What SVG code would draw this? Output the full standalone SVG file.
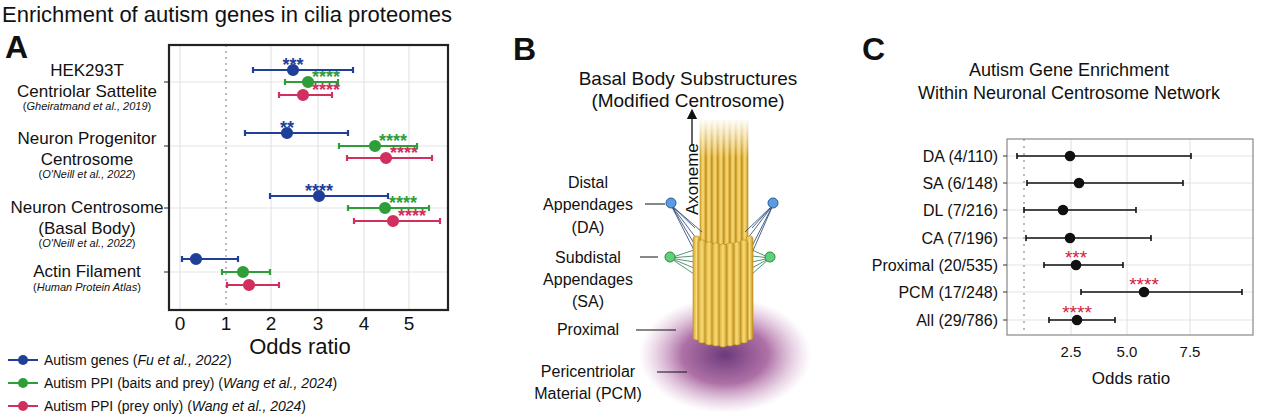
<svg xmlns="http://www.w3.org/2000/svg" width="1265" height="416" viewBox="0 0 1265 416">
<style>
text{font-family:"Liberation Sans",Arial,sans-serif;fill:#111}
.lab{font-size:17px;text-anchor:middle}
.cit{font-size:11px;text-anchor:middle}
.cl{font-size:16px;text-anchor:end}
.tk{font-size:16px;text-anchor:middle}
.grid{stroke:#e4e4e4;stroke-width:1.2}
.st{font-size:18px;text-anchor:middle;font-weight:bold}
.b{stroke:#1f3f98;fill:#1f3f98}.g{stroke:#2f9e3a;fill:#2f9e3a}.r{stroke:#d0305e;fill:#d0305e}
.eb{stroke-width:2.2}
.k{stroke:#111;stroke-width:1.6}
.rod{fill:url(#rodg);stroke:#b88a1c;stroke-width:0.6}
.bl{font-size:16px;text-anchor:middle}
</style>
<defs>
<radialGradient id="pcm" cx="50%" cy="50%" r="50%"><stop offset="0" stop-color="#6b3a7a"/><stop offset="0.5" stop-color="#9a4d90" stop-opacity="0.8"/><stop offset="1" stop-color="#c98fc0" stop-opacity="0"/></radialGradient>
<linearGradient id="rodg" x1="0" x2="1"><stop offset="0" stop-color="#d9a630"/><stop offset="0.5" stop-color="#f7dc7a"/><stop offset="1" stop-color="#c9941f"/></linearGradient>
<linearGradient id="fade" x1="0" y1="0" x2="0" y2="1"><stop offset="0" stop-color="#fff" stop-opacity="1"/><stop offset="1" stop-color="#fff" stop-opacity="0"/></linearGradient>
<marker id="ar" markerWidth="8" markerHeight="8" refX="4" refY="4" orient="auto"><path d="M0,0L8,4L0,8z" fill="#111"/></marker>
</defs>
<rect width="1265" height="416" fill="#fff"/>
<text x="2" y="22" style="font-size:22px">Enrichment of autism genes in cilia proteomes</text>
<text x="5" y="58" style="font-size:32px;font-weight:bold">A</text>
<text x="513" y="60" style="font-size:32px;font-weight:bold">B</text>
<text x="862" y="60" style="font-size:32px;font-weight:bold">C</text>

<g id="panelA">
<g class="grid">
<line x1="180" y1="45" x2="180" y2="310"/><line x1="271" y1="45" x2="271" y2="310"/><line x1="318" y1="45" x2="318" y2="310"/><line x1="364" y1="45" x2="364" y2="310"/><line x1="409" y1="45" x2="409" y2="310"/>
<line x1="169" y1="82" x2="448" y2="82"/><line x1="169" y1="146" x2="448" y2="146"/><line x1="169" y1="208" x2="448" y2="208"/><line x1="169" y1="272" x2="448" y2="272"/>
</g>
<line x1="226" y1="45" x2="226" y2="310" stroke="#bbb" stroke-width="2" stroke-dasharray="2,4"/>
<rect x="169" y="45" width="279" height="265" fill="none" stroke="#222" stroke-width="2.2"/>
<g stroke="#222"><line x1="164" y1="82" x2="169" y2="82"/><line x1="164" y1="146" x2="169" y2="146"/><line x1="164" y1="208" x2="169" y2="208"/><line x1="164" y1="272" x2="169" y2="272"/></g>
<text class="lab" x="87" y="76">HEK293T</text><text class="lab" x="87" y="97">Centriolar Sattelite</text><text class="cit" x="87" y="110">(<tspan font-style="italic">Gheiratmand et al., 2019</tspan>)</text>
<text class="lab" x="87" y="144">Neuron Progenitor</text><text class="lab" x="87" y="165">Centrosome</text><text class="cit" x="87" y="178">(<tspan font-style="italic">O'Neill et al., 2022</tspan>)</text>
<text class="lab" x="87" y="213">Neuron Centrosome</text><text class="lab" x="87" y="234">(Basal Body)</text><text class="cit" x="87" y="247">(<tspan font-style="italic">O'Neill et al., 2022</tspan>)</text>
<text class="lab" x="87" y="277">Actin Filament</text><text class="cit" x="87" y="291">(<tspan font-style="italic">Human Protein Atlas</tspan>)</text>
<text class="st" x="293" y="71" style="fill:#1f3f98">***</text>
<text class="st" x="326" y="83" style="fill:#2f9e3a">****</text>
<text class="st" x="326" y="96" style="fill:#d0305e">****</text>
<text class="st" x="287" y="134" style="fill:#1f3f98">**</text>
<text class="st" x="393" y="147" style="fill:#2f9e3a">****</text>
<text class="st" x="404" y="159" style="fill:#d0305e">****</text>
<text class="st" x="319" y="197" style="fill:#1f3f98">****</text>
<text class="st" x="403" y="209" style="fill:#2f9e3a">****</text>
<text class="st" x="412" y="222" style="fill:#d0305e">****</text>
<g class="eb">
<g class="b"><line x1="253" y1="70" x2="353" y2="70"/><circle cx="293" cy="70" r="5"/><line x1="253" y1="67" x2="253" y2="73"/><line x1="353" y1="67" x2="353" y2="73"/></g>
<g class="g"><line x1="285" y1="82" x2="338" y2="82"/><circle cx="308" cy="82" r="5"/><line x1="285" y1="79" x2="285" y2="85"/><line x1="338" y1="79" x2="338" y2="85"/></g>
<g class="r"><line x1="279" y1="95" x2="332" y2="95"/><circle cx="303" cy="95" r="5"/><line x1="279" y1="92" x2="279" y2="98"/><line x1="332" y1="92" x2="332" y2="98"/></g>
<g class="b"><line x1="245" y1="133" x2="348" y2="133"/><circle cx="287" cy="133" r="5"/><line x1="245" y1="130" x2="245" y2="136"/><line x1="348" y1="130" x2="348" y2="136"/></g>
<g class="g"><line x1="339" y1="146" x2="417" y2="146"/><circle cx="375" cy="146" r="5"/><line x1="339" y1="143" x2="339" y2="149"/><line x1="417" y1="143" x2="417" y2="149"/></g>
<g class="r"><line x1="347" y1="158" x2="432" y2="158"/><circle cx="386" cy="158" r="5"/><line x1="347" y1="155" x2="347" y2="161"/><line x1="432" y1="155" x2="432" y2="161"/></g>
<g class="b"><line x1="270" y1="196" x2="388" y2="196"/><circle cx="319" cy="196" r="5"/><line x1="270" y1="193" x2="270" y2="199"/><line x1="388" y1="193" x2="388" y2="199"/></g>
<g class="g"><line x1="348" y1="208" x2="429" y2="208"/><circle cx="385" cy="208" r="5"/><line x1="348" y1="205" x2="348" y2="211"/><line x1="429" y1="205" x2="429" y2="211"/></g>
<g class="r"><line x1="354" y1="221" x2="440" y2="221"/><circle cx="393" cy="221" r="5"/><line x1="354" y1="218" x2="354" y2="224"/><line x1="440" y1="218" x2="440" y2="224"/></g>
<g class="b"><line x1="182" y1="259" x2="238" y2="259"/><circle cx="196" cy="259" r="5"/><line x1="182" y1="256" x2="182" y2="262"/><line x1="238" y1="256" x2="238" y2="262"/></g>
<g class="g"><line x1="222" y1="272" x2="270" y2="272"/><circle cx="243" cy="272" r="5"/><line x1="222" y1="269" x2="222" y2="275"/><line x1="270" y1="269" x2="270" y2="275"/></g>
<g class="r"><line x1="227" y1="285" x2="279" y2="285"/><circle cx="249" cy="285" r="5"/><line x1="227" y1="282" x2="227" y2="288"/><line x1="279" y1="282" x2="279" y2="288"/></g>
</g>
<g class="tk" style="font-size:19px"><text x="180" y="330">0</text><text x="226" y="330">1</text><text x="271" y="330">2</text><text x="318" y="330">3</text><text x="364" y="330">4</text><text x="409" y="330">5</text></g>
<text x="300" y="354" style="font-size:22px;text-anchor:middle">Odds ratio</text>
</g>

<g id="legend" style="font-size:14px">
<line x1="8" y1="360" x2="38" y2="360" stroke="#1f3f98" stroke-width="2"/><circle cx="23" cy="360" r="5" fill="#1f3f98"/>
<text x="44" y="365">Autism genes (<tspan font-style="italic">Fu et al., 2022</tspan>)</text>
<line x1="8" y1="383" x2="38" y2="383" stroke="#2f9e3a" stroke-width="2"/><circle cx="23" cy="383" r="5" fill="#2f9e3a"/>
<text x="44" y="388">Autism PPI (baits and prey) (<tspan font-style="italic">Wang et al., 2024</tspan>)</text>
<line x1="8" y1="406" x2="38" y2="406" stroke="#d0305e" stroke-width="2"/><circle cx="23" cy="406" r="5" fill="#d0305e"/>
<text x="44" y="411">Autism PPI (prey only) (<tspan font-style="italic">Wang et al., 2024</tspan>)</text>
</g>

<g id="panelB">
<text class="bl" x="688" y="85" style="font-size:19px">Basal Body Substructures</text>
<text class="bl" x="688" y="107" style="font-size:19px">(Modified Centrosome)</text>
<ellipse cx="725" cy="355" rx="86" ry="58" fill="url(#pcm)"/>
<g id="axoneme">
<rect class="rod" x="700" y="120" width="6" height="125"/><rect class="rod" x="706" y="120" width="6" height="125"/><rect class="rod" x="712" y="120" width="6" height="125"/><rect class="rod" x="718" y="120" width="6" height="125"/><rect class="rod" x="724" y="120" width="6" height="125"/><rect class="rod" x="730" y="120" width="6" height="125"/><rect class="rod" x="736" y="120" width="6" height="125"/><rect class="rod" x="742" y="120" width="6" height="125"/>
<rect x="698" y="118" width="52" height="40" fill="url(#fade)"/>
</g>
<g stroke="#1f3f6e" stroke-width="0.8" fill="none">
<path d="M671,205L696,238M671,205L698,250M671,205L700,262M671,205L695,228M671,205L702,232"/>
<path d="M773,205L748,238M773,205L750,250M773,205L748,262M773,205L752,228M773,205L745,232"/>
</g>
<g stroke="#2b7a50" stroke-width="0.8" fill="none">
<path d="M670,258L694,250M670,258L694,256M670,258L694,262M670,258L694,268M670,258L694,274"/>
<path d="M770,258L752,250M770,258L752,256M770,258L752,262M770,258L752,268M770,258L752,274"/>
</g>
<g id="cylinder">
<rect class="rod" x="693" y="236" width="7" height="104" rx="3"/><rect class="rod" x="746" y="236" width="7" height="104" rx="3"/>
<rect class="rod" x="698" y="240" width="8" height="103" rx="3"/><rect class="rod" x="740" y="240" width="8" height="103" rx="3"/>
<rect class="rod" x="705" y="242" width="8" height="103" rx="3"/><rect class="rod" x="733" y="242" width="8" height="103" rx="3"/>
<rect class="rod" x="712" y="243" width="8" height="103" rx="3"/><rect class="rod" x="726" y="243" width="8" height="103" rx="3"/>
<rect class="rod" x="719" y="244" width="8" height="103" rx="3"/>
</g>
<circle cx="671" cy="203" r="5" fill="#5b9be0" stroke="#2a5e9e"/><circle cx="773" cy="203" r="5" fill="#5b9be0" stroke="#2a5e9e"/>
<circle cx="670" cy="257" r="5" fill="#5fcf78" stroke="#2b8a45"/><circle cx="770" cy="257" r="5" fill="#5fcf78" stroke="#2b8a45"/>
<line x1="692" y1="145" x2="692" y2="114" stroke="#111" stroke-width="1.3" marker-end="url(#ar)"/>
<text x="0" y="0" transform="translate(698,215) rotate(-90)" style="font-size:17px">Axoneme</text>
<g class="bl"><text x="588" y="188">Distal</text><text x="588" y="210">Appendages</text><text x="588" y="233">(DA)</text>
<text x="588" y="263">Subdistal</text><text x="588" y="285">Appendages</text><text x="588" y="307">(SA)</text>
<text x="588" y="335">Proximal</text>
<text x="588" y="377">Pericentriolar</text><text x="588" y="399">Material (PCM)</text></g>
<g stroke="#111" stroke-width="1"><line x1="645" y1="204" x2="665" y2="204"/><line x1="640" y1="257" x2="658" y2="257"/><line x1="636" y1="330" x2="676" y2="330"/><line x1="657" y1="372" x2="687" y2="372"/></g>
</g>

<g id="panelC">
<text class="bl" x="1069" y="76" style="font-size:18px">Autism Gene Enrichment</text>
<text class="bl" x="1069" y="99" style="font-size:18px">Within Neuronal Centrosome Network</text>
<g class="grid">
<line x1="1071" y1="139" x2="1071" y2="335"/><line x1="1127" y1="139" x2="1127" y2="335"/><line x1="1190" y1="139" x2="1190" y2="335"/>
<line x1="1007" y1="156" x2="1253" y2="156"/><line x1="1007" y1="183" x2="1253" y2="183"/><line x1="1007" y1="210" x2="1253" y2="210"/><line x1="1007" y1="238" x2="1253" y2="238"/><line x1="1007" y1="265" x2="1253" y2="265"/><line x1="1007" y1="292" x2="1253" y2="292"/><line x1="1007" y1="320" x2="1253" y2="320"/>
</g>
<line x1="1024" y1="139" x2="1024" y2="335" stroke="#bbb" stroke-width="2" stroke-dasharray="2,5"/>
<rect x="1007" y="139" width="246" height="196" fill="none" stroke="#888" stroke-width="1.2"/>
<g stroke="#333"><line x1="1003" y1="156" x2="1007" y2="156"/><line x1="1003" y1="183" x2="1007" y2="183"/><line x1="1003" y1="210" x2="1007" y2="210"/><line x1="1003" y1="238" x2="1007" y2="238"/><line x1="1003" y1="265" x2="1007" y2="265"/><line x1="1003" y1="292" x2="1007" y2="292"/><line x1="1003" y1="320" x2="1007" y2="320"/></g>
<g class="cl"><text x="998" y="162">DA (4/110)</text><text x="998" y="189">SA (6/148)</text><text x="998" y="216">DL (7/216)</text><text x="998" y="244">CA (7/196)</text><text x="998" y="271">Proximal (20/535)</text><text x="998" y="298">PCM (17/248)</text><text x="998" y="326">All (29/786)</text></g>
<g class="k">
<path d="M1017,156H1191M1017,153v6M1191,153v6"/><circle cx="1070" cy="156" r="4.5" fill="#111"/>
<path d="M1027,183H1183M1027,180v6M1183,180v6"/><circle cx="1079" cy="183" r="4.5" fill="#111"/>
<path d="M1024,210H1136M1024,207v6M1136,207v6"/><circle cx="1063" cy="210" r="4.5" fill="#111"/>
<path d="M1026,238H1151M1026,235v6M1151,235v6"/><circle cx="1070" cy="238" r="4.5" fill="#111"/>
<path d="M1044,265H1123M1044,262v6M1123,262v6"/><circle cx="1076" cy="265" r="4.5" fill="#111"/>
<path d="M1081,292H1242M1081,289v6M1242,289v6"/><circle cx="1144" cy="292" r="4.5" fill="#111"/>
<path d="M1049,320H1115M1049,317v6M1115,317v6"/><circle cx="1077" cy="320" r="4.5" fill="#111"/>
</g>
<g style="font-size:19px;text-anchor:middle"><text x="1076" y="264" style="fill:#d0203a">***</text><text x="1144" y="291" style="fill:#d0203a">****</text><text x="1077" y="319" style="fill:#d0203a">****</text></g>
<g class="tk" style="font-size:15px"><text x="1071" y="357">2.5</text><text x="1127" y="357">5.0</text><text x="1190" y="357">7.5</text></g>
<text x="1131" y="384" style="font-size:17px;text-anchor:middle">Odds ratio</text>
</g>
</svg>
